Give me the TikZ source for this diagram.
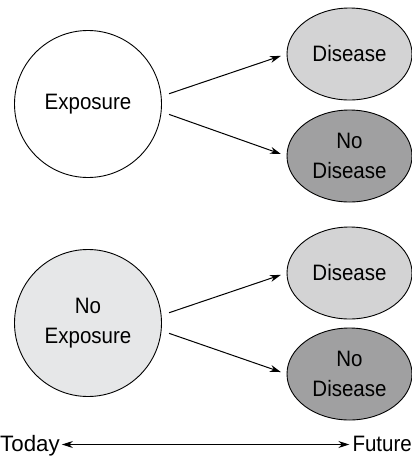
\documentclass[tikz,border=0pt]{standalone}
\usepackage{fontspec}
\setmainfont[FakeStretch=0.92]{Liberation Sans}
\usetikzlibrary{shapes.geometric,arrows.meta}
\definecolor{dislight}{RGB}{211,211,212}
\definecolor{disdark}{RGB}{160,160,161}
\definecolor{noexp}{RGB}{230,231,232}
\begin{document}
\begin{tikzpicture}[x=1pt,y=-1pt,
  every node/.style={font=\fontsize{22.3}{29.3}\selectfont, align=center},
  expcircle/.style={circle, draw=black, line width=0.9pt, minimum size=147pt, inner sep=0pt},
  outcome/.style={ellipse, draw=black, line width=0.9pt, minimum width=125pt, minimum height=92pt, inner sep=0pt},
  tip/.style={Stealth[length=11pt,width=7pt]},
  arr/.style={-{Stealth[length=11pt,width=7pt]}, line width=1pt, shorten <=8pt, shorten >=6pt}]
\useasboundingbox (0,0) rectangle (412,459);
% top half
\node[expcircle, fill=white] (exp) at (88,104) {Exposure};
\node[outcome, fill=dislight] (dis1) at (349.5,54) {Disease};
\node[outcome, fill=disdark] (nd1) at (349.5,156) {No\\Disease};
\draw[arr] (exp.6) -- (dis1.west);
\draw[arr] (exp.-6) -- (nd1.west);
% bottom half
\node[expcircle, fill=noexp] (noexp) at (88,323) {No\\Exposure};
\node[outcome, fill=dislight] (dis2) at (349.5,273) {Disease};
\node[outcome, fill=disdark] (nd2) at (349.5,374) {No\\Disease};
\draw[arr] (noexp.6) -- (dis2.west);
\draw[arr] (noexp.-6) -- (nd2.west);
% timeline
\node[anchor=base west, inner sep=0pt] (today) at (0,451) {\addfontfeature{FakeStretch=1}Today};
\node[anchor=base east, inner sep=0pt] (future) at (412,451) {Future};
\draw[{Stealth[length=11pt,width=7pt]}-{Stealth[length=11pt,width=7pt]}, line width=1pt, shorten <=2pt, shorten >=3pt]
  ([yshift=6.5pt]today.base east) -- ([yshift=6.5pt]future.base west);
\end{tikzpicture}
\end{document}
